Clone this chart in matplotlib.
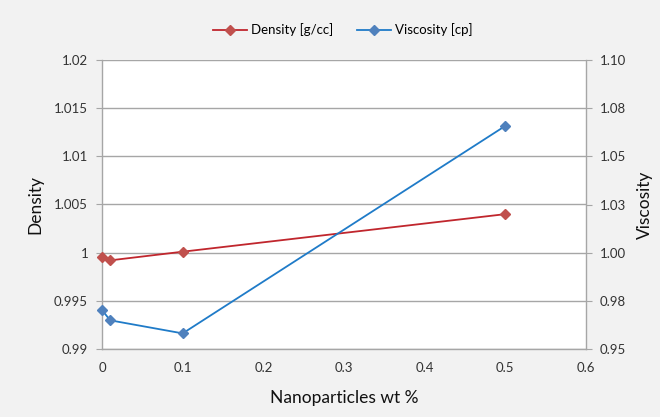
import matplotlib
matplotlib.use("Agg")
import matplotlib.pyplot as plt
from matplotlib.ticker import FixedLocator, FixedFormatter

plt.rcParams['font.family'] = ['Lato', 'DejaVu Sans']

x_wt = [0, 0.01, 0.1, 0.5]
density = [0.99955, 0.9992, 1.0001, 1.0040]
viscosity = [0.9703, 0.9649, 0.9581, 1.0658]

left_ticks = [0.99, 0.995, 1.0, 1.005, 1.01, 1.015, 1.02]
left_labels = ["0.99", "0.995", "1", "1.005", "1.01", "1.015", "1.02"]
right_ticks = [0.95, 0.975, 1.0, 1.025, 1.05, 1.075, 1.10]
right_labels = ["0.95", "0.98", "1.00", "1.03", "1.05", "1.08", "1.10"]
x_ticks = [0, 0.1, 0.2, 0.3, 0.4, 0.5, 0.6]
x_labels = ["0", "0.1", "0.2", "0.3", "0.4", "0.5", "0.6"]

fig = plt.figure(figsize=(6.6, 4.17), dpi=100, facecolor='#f2f2f2')
ax = fig.add_axes([102/660, 1-349/417, 484/660, 289/417])
ax.set_facecolor('white')
ax2 = ax.twinx()

grid_c = '#a6a6a6'
ax.set_xlim(0, 0.6)
ax.set_ylim(0.99, 1.02)
ax2.set_ylim(0.95, 1.10)
ax.yaxis.set_major_locator(FixedLocator(left_ticks))
ax.yaxis.set_major_formatter(FixedFormatter(left_labels))
ax2.yaxis.set_major_locator(FixedLocator(right_ticks))
ax2.yaxis.set_major_formatter(FixedFormatter(right_labels))
ax.xaxis.set_major_locator(FixedLocator(x_ticks))
ax.xaxis.set_major_formatter(FixedFormatter(x_labels))

ax.grid(axis='y', color=grid_c, linewidth=1.0)
ax.set_axisbelow(True)
for a in (ax, ax2):
    for s in a.spines.values():
        s.set_color(grid_c)
        s.set_linewidth(1.0)
    a.spines['top'].set_visible(False)
ax.spines['right'].set_visible(False)
ax2.spines['left'].set_visible(False)
ax2.spines['bottom'].set_visible(False)

ax.tick_params(axis='y', length=4, color=grid_c, labelsize=9.5, labelcolor='#333333', pad=6)
ax.tick_params(axis='x', length=0, labelsize=9.5, labelcolor='#333333', pad=9)
ax2.tick_params(axis='y', length=4, color=grid_c, labelsize=9.5, labelcolor='#333333', pad=6)

l1, = ax.plot(x_wt, density, color='#c0262d', linewidth=1.3, marker='D', markersize=5,
              markerfacecolor='#c0504d', markeredgecolor='#c0504d', label='Density [g/cc]', clip_on=False, zorder=5)
l2, = ax2.plot(x_wt, viscosity, color='#1f7bc8', linewidth=1.3, marker='D', markersize=5,
               markerfacecolor='#4f81bd', markeredgecolor='#4f81bd', label='Viscosity [cp]', clip_on=False, zorder=5)

ax.set_xlabel('Nanoparticles wt %', fontsize=12.5, color='#111111', labelpad=12)
ax.set_ylabel('Density', fontsize=12.5, color='#111111', labelpad=8)
ax2.set_ylabel('Viscosity', fontsize=12.5, color='#111111', labelpad=8)

fig.legend(handles=[l1, l2], loc='center', bbox_to_anchor=(343/660, 1-30/417), ncol=2,
           frameon=False, fontsize=9.5, handlelength=2.6, columnspacing=1.8, handletextpad=0.3)

fig.savefig('out.png', dpi=100, facecolor=fig.get_facecolor())
